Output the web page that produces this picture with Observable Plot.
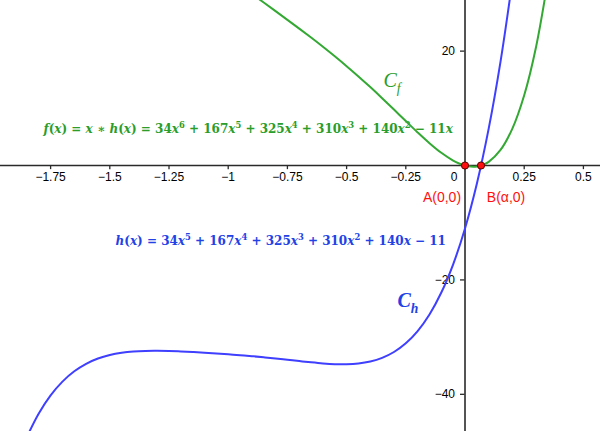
<!DOCTYPE html>
<html><head><meta charset="utf-8">
<script src="https://cdn.jsdelivr.net/npm/d3@7"></script>
<script src="https://cdn.jsdelivr.net/npm/@observablehq/plot@0.6"></script>
<style>html,body{margin:0;padding:0;background:#fff} #chart svg{display:block}</style>
</head><body><div id="chart"></div>
<script>
// ---- data ----
// C_h : h(x) sampled along the blue curve
const xH = [-1.85,-1.8,-1.75,-1.7,-1.65,-1.6,-1.55,-1.5,-1.45,-1.4,-1.35,-1.3,-1.25,-1.2,-1.15,-1.1,-1.05,-1,-0.95,-0.9,-0.85,-0.8,-0.75,-0.7,-0.65,-0.6,-0.55,-0.5,-0.45,-0.4,-0.35,-0.3,-0.25,-0.2,-0.15,-0.1,-0.05,0,0.05,0.1,0.15,0.2];
const yH = [-47.43,-43.353,-40.19,-37.775,-35.975,-34.664,-33.743,-33.125,-32.736,-32.512,-32.412,-32.395,-32.435,-32.511,-32.611,-32.727,-32.858,-33,-33.158,-33.333,-33.527,-33.738,-33.963,-34.193,-34.413,-34.601,-34.727,-34.75,-34.62,-34.273,-33.632,-32.605,-31.084,-28.944,-26.04,-22.209,-17.265,-11,-3.183,6.442,18.159,32.278];
// C_f : f(x) sampled along the green curve
const xF = [-0.95,-0.9,-0.85,-0.8,-0.75,-0.7,-0.65,-0.6,-0.55,-0.5,-0.45,-0.4,-0.35,-0.3,-0.25,-0.2,-0.15,-0.1,-0.05,-0.025,0,0.025,0.05,0.075,0.1,0.15,0.2,0.25,0.3,0.35];
const yF = [31.5,30,28.498,26.99,25.472,23.935,22.368,20.761,19.1,17.375,15.579,13.709,11.771,9.782,7.771,5.789,3.906,2.221,0.863,0.358,0,-0.183,-0.159,0.104,0.644,2.724,6.456,12.285,20.733,32.408];
// axis ticks
const xTicks = [-1.75,-1.5,-1.25,-1,-0.75,-0.5,-0.25,0,0.25,0.5];
const xTickLabels = ["−1.75","−1.5","−1.25","−1","−0.75","−0.5","−0.25","0","0.25","0.5"];
const yTicks = [20,-20,-40];
const yTickLabels = ["20","−20","−40"];
// points
const pointX = [0, 0.0676];
const pointY = [0, 0];
const pointLabels = ["A(0,0)", "B(α,0)"];
// texts
const fFormula = "f(x) = x ∗ h(x) = 34x⁶ + 167x⁵ + 325x⁴ + 310x³ + 140x² − 11x";
const hFormula = "h(x) = 34x⁵ + 167x⁴ + 325x³ + 310x² + 140x − 11";
const curveNames = ["Cf", "Ch"];

// ---- drawing ----
const green = "#33a833", blue = "#3f3fff", red = "#ff1010";
const greenText = "#2a9d2a", blueText = "#2242e6";
const hPts = xH.map((x, i) => ({x, y: yH[i]}));
const fPts = xF.map((x, i) => ({x, y: yF[i]}));
const xt = xTicks.map((x, i) => ({x, label: xTickLabels[i]}));
const yt = yTicks.map((y, i) => ({y, label: yTickLabels[i]}));
const pts = pointX.map((x, i) => ({x, y: pointY[i], label: pointLabels[i]}));
const serif = "'DejaVu Serif','Liberation Serif',serif";
const serif2 = "'Liberation Serif','DejaVu Serif',serif";
const fSize = 12;

const plot = Plot.plot({
  width: 600, height: 431, margin: 0,
  x: {domain: [-1.9616, 0.5722], axis: null},
  y: {domain: [-46.5, 28.85], axis: null},
  style: {background: "#fff", fontFamily: "'Liberation Sans',Arial,sans-serif", overflow: "hidden"},
  marks: [
    Plot.ruleY([0], {stroke: "#2a2a2a", strokeWidth: 1.6}),
    Plot.ruleX([0], {stroke: "#2a2a2a", strokeWidth: 1.6}),
    Plot.ruleX(xt, {x: "x", y1: 0, y2: -0.72, stroke: "#2a2a2a", strokeWidth: 1.3}),
    Plot.ruleY(yt, {y: "y", x1: -0.019, x2: 0, stroke: "#2a2a2a", strokeWidth: 1.3}),
    Plot.text(xt.filter(d => d.x !== 0), {x: "x", y: 0, text: "label", dy: 12, fontSize: 12, fill: "#000"}),
    Plot.text(xt.filter(d => d.x === 0), {x: "x", y: 0, text: "label", dy: 12, dx: -11, fontSize: 12, fill: "#000"}),
    Plot.text(yt, {x: 0, y: "y", text: "label", dx: -10, textAnchor: "end", fontSize: 12, fill: "#000"}),
    Plot.text([fFormula], {x: -1.780, y: 6.38, text: d => d, textAnchor: "start", fontSize: fSize, fontWeight: "bold", fontFamily: serif, fill: greenText}),
    Plot.text([hFormula], {x: -1.476, y: -13.29, text: d => d, textAnchor: "start", fontSize: fSize, fontWeight: "bold", fontFamily: serif, fill: blueText}),
    Plot.line(fPts, {x: "x", y: "y", stroke: green, strokeWidth: 2, curve: "catmull-rom", clip: true}),
    Plot.line(hPts, {x: "x", y: "y", stroke: blue, strokeWidth: 2, curve: "catmull-rom", clip: true}),
    Plot.text([curveNames[0]], {x: -0.3446, y: 14.86, text: d => d, textAnchor: "start", fontSize: 20, fontStyle: "italic", fontFamily: serif2, fill: greenText}),
    Plot.text([curveNames[1]], {x: -0.285, y: -23.69, text: d => d, textAnchor: "start", fontSize: 20, fontStyle: "italic", fontWeight: "bold", fontFamily: serif2, fill: blueText}),
    Plot.dot(pts, {x: "x", y: "y", r: 3.6, fill: red, stroke: "#5a0000", strokeWidth: 1}),
    Plot.text(pts.slice(0, 1), {x: "x", y: "y", text: "label", dx: -23, dy: 32, fontSize: 14, fill: red}),
    Plot.text(pts.slice(1), {x: "x", y: "y", text: "label", dx: 25, dy: 32, fontSize: 14, fill: red})
  ]
});
document.getElementById("chart").append(plot);

// typeset the formula texts: italic letters, raised exponents
const supMap = {"⁰":"0","¹":"1","²":"2","³":"3","⁴":"4","⁵":"5","⁶":"6","⁷":"7","⁸":"8","⁹":"9"};
function mathify(el, size) {
  const s = el.textContent;
  const runs = [];
  for (const c of s) {
    const t = supMap[c] ? "sup" : /[a-z]/i.test(c) ? "it" : "n";
    if (runs.length && runs[runs.length - 1].t === t) runs[runs.length - 1].s += (supMap[c] || c);
    else runs.push({t, s: supMap[c] || c});
  }
  el.textContent = "";
  const sel = d3.select(el);
  let raised = false;
  const shift = size * 0.42;
  for (const r of runs) {
    const ts = sel.append("tspan").text(r.s);
    if (r.t === "sup") { ts.attr("font-size", size * 0.7); if (!raised) ts.attr("dy", -shift); raised = true; }
    else { if (raised) ts.attr("dy", shift); raised = false; }
    if (r.t === "it") ts.attr("font-style", "italic");
  }
}
function subscriptify(el, size) {
  const s = el.textContent;
  el.textContent = "";
  const sel = d3.select(el);
  sel.append("tspan").text(s[0]);
  sel.append("tspan").text(s.slice(1)).attr("font-size", size * 0.68).attr("dy", size * 0.28);
}
d3.select(plot).selectAll("text").each(function() {
  const t = this.textContent;
  if (t === fFormula || t === hFormula) mathify(this, fSize);
  else if (curveNames.includes(t)) subscriptify(this, 20);
});
</script>
</body></html>
